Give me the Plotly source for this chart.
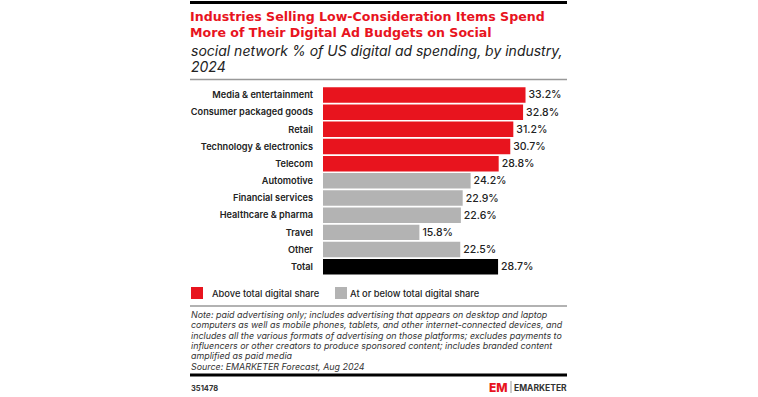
import plotly.graph_objects as go

W, H = 758, 397

categories = ["Media & entertainment", "Consumer packaged goods", "Retail",
              "Technology & electronics", "Telecom", "Automotive",
              "Financial services", "Healthcare & pharma", "Travel", "Other", "Total"]
values = [33.2, 32.8, 31.2, 30.7, 28.8, 24.2, 22.9, 22.6, 15.8, 22.5, 28.7]
groups = ["above", "above", "above", "above", "above", "below",
          "below", "below", "below", "below", "total"]

RED = "#E8141E"
GRAY = "#B3B3B3"
BLACK = "#000000"
color_map = {"above": RED, "below": GRAY, "total": BLACK}
colors = [color_map[g] for g in groups]

title_lines = ["Industries Selling Low-Consideration Items Spend",
               "More of Their Digital Ad Budgets on Social"]
subtitle_lines = ["social network % of US digital ad spending, by industry,", "2024"]
legend_labels = ["Above total digital share", "At or below total digital share"]
note_lines = [
    "Note: paid advertising only; includes advertising that appears on desktop and laptop",
    "computers as well as mobile phones, tablets, and other internet-connected devices, and",
    "includes all the various formats of advertising on those platforms; excludes payments to",
    "influencers or other creators to produce sponsored content; includes branded content",
    "amplified as paid media",
    "Source: EMARKETER Forecast, Aug 2024",
]
chart_id = "351478"

FONT = "Inter"
TITLE_FONT = "DejaVu Sans"

def px(x):
    return x / W

def py(y):
    return 1 - y / H

fig = go.Figure()
fig.add_trace(go.Bar(
    y=categories, x=values, orientation="h",
    marker=dict(color=colors, line=dict(width=0)),
    text=[f"{v:.1f}%" for v in values], textposition="outside",
    textfont=dict(family=FONT, size=10.5, color="#222222", weight=500),
    cliponaxis=False, hoverinfo="skip", showlegend=False,
))

LEFT = 190
RIGHT = 567

fig.update_layout(
    width=W, height=H,
    margin=dict(l=0, r=0, t=0, b=0),
    paper_bgcolor="white", plot_bgcolor="white",
    bargap=0.1,
    xaxis=dict(domain=[px(323), px(567)], range=[0, 40], visible=False, fixedrange=True),
    yaxis=dict(domain=[py(275.3), py(86.4)], autorange="reversed", fixedrange=True,
               showgrid=False, zeroline=False, showline=False,
               ticks="", ticklabelstandoff=9,
               tickfont=dict(family=FONT, size=9.2, color="#222222", weight=600)),
    font=dict(family=FONT),
)

shapes = []
shapes.append(dict(type="line", xref="paper", yref="paper", x0=px(LEFT), x1=px(RIGHT),
                   y0=py(2.5), y1=py(2.5), line=dict(color="#000000", width=3)))
shapes.append(dict(type="line", xref="paper", yref="paper", x0=px(LEFT), x1=px(RIGHT),
                   y0=py(79.5), y1=py(79.5), line=dict(color="#999999", width=1.5)))
shapes.append(dict(type="line", xref="paper", yref="paper", x0=px(LEFT), x1=px(RIGHT),
                   y0=py(306), y1=py(306), line=dict(color="#999999", width=1.5)))
shapes.append(dict(type="line", xref="paper", yref="paper", x0=px(LEFT), x1=px(RIGHT),
                   y0=py(375), y1=py(375), line=dict(color="#000000", width=3)))
shapes.append(dict(type="rect", xref="paper", yref="paper", x0=px(191), x1=px(203),
                   y0=py(299), y1=py(287), fillcolor=RED, line=dict(width=0)))
shapes.append(dict(type="rect", xref="paper", yref="paper", x0=px(335), x1=px(347),
                   y0=py(299), y1=py(287), fillcolor=GRAY, line=dict(width=0)))
shapes.append(dict(type="line", xref="paper", yref="paper", x0=px(511), x1=px(511),
                   y0=py(381), y1=py(393), line=dict(color="#999999", width=1)))

ann = []
def text(x, y, s, size, color="#222222", weight=400, italic=False, xanchor="left",
         family=FONT, **kw):
    ann.append(dict(x=px(x), y=py(y), xref="paper", yref="paper", text=s, showarrow=False,
                    xanchor=xanchor, yanchor="middle",
                    font=dict(family=family, size=size, color=color, weight=weight,
                              style="italic" if italic else "normal"), **kw))

text(189, 16.6, title_lines[0], 12.6, color=RED, weight=700, family=TITLE_FONT, borderpad=0)
text(189, 32.9, title_lines[1], 12.6, color=RED, weight=700, family=TITLE_FONT, borderpad=0)
text(189, 50.5, subtitle_lines[0], 14.0, color="#222222", italic=True)
text(189, 67, subtitle_lines[1], 14.0, color="#222222", italic=True)

text(210, 293.5, legend_labels[0], 9.3, weight=500)
text(348, 293.5, legend_labels[1], 9.3, weight=500)

for i, line in enumerate(note_lines):
    text(189, 314.5 + i * 10.3, line, 8.9, color="#333333", italic=True)

text(189, 388, chart_id, 7.5, color="#333333", weight=700)
text(487, 387, "EM", 12, color=RED, weight=800)
text(512, 387.5, "EMARKETER", 8.5, color="#333333", weight=700)

fig.update_layout(shapes=shapes, annotations=ann)
fig.write_html("out.html", config={"displayModeBar": False},
               post_script="document.body.style.margin='0';document.body.style.padding='0';")
